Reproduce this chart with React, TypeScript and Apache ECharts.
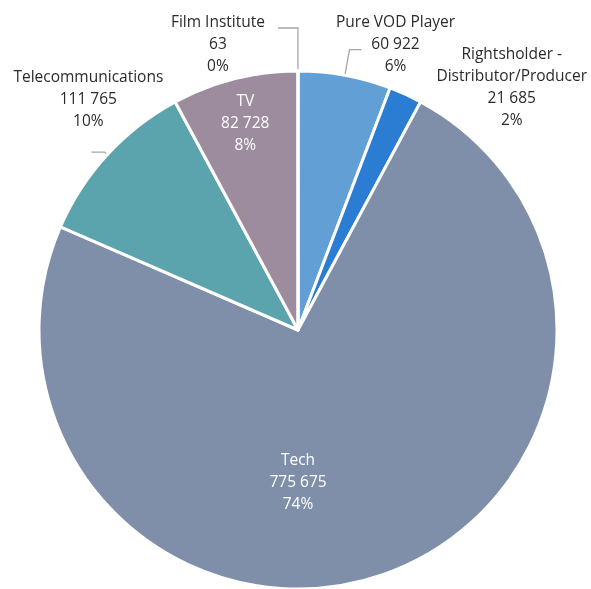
import React, { useEffect, useRef } from "react";
import * as echarts from "echarts";

const categories = [
  "Pure VOD Player",
  "Rightsholder - Distributor/Producer",
  "Tech",
  "Telecommunications",
  "TV",
  "Film Institute",
];
const labelNames = [
  "Pure VOD Player",
  "Rightsholder -\nDistributor/Producer",
  "Tech",
  "Telecommunications",
  "TV",
  "Film Institute",
];
const values = [60922, 21685, 775675, 111765, 82728, 63];
const colors = ["#629FD5", "#2B7CD3", "#7F8FA9", "#5BA3AD", "#9D8C9E", "#8FA9C9"];

const CX = 298;
const CY = 330;
const R = 259;

const fmt = (v: number) => String(v).replace(/\B(?=(\d{3})+(?!\d))/g, " ");

const polar = (deg: number, frac: number) => {
  const a = (deg * Math.PI) / 180;
  return { x: CX + R * frac * Math.sin(a), y: CY - R * frac * Math.cos(a) };
};

export default function App() {
  const ref = useRef<HTMLDivElement>(null);
  useEffect(() => {
    if (!ref.current) return;
    const chart = echarts.init(ref.current, null, { renderer: "svg" });
    const outside = {
      show: true,
      position: "outside",
      color: "#2b2b2b",
      fontFamily: "Open Sans",
      fontSize: 15.5,
      lineHeight: 22,
    };
    const inside = {
      show: true,
      position: "inside",
      color: "#ffffff",
      fontFamily: "Open Sans",
      fontSize: 15.5,
      lineHeight: 22,
    };
    const lineStyle = { color: "#A6A6A6", width: 1.3 };
    const itemCfg: any[] = [
      { label: outside, labelLine: { show: true, length: 26, length2: 12, lineStyle } },
      { label: outside, labelLine: { show: false } },
      { label: inside, labelLine: { show: false } },
      { label: outside, labelLine: { show: true, length: 4, length2: 13, lineStyle } },
      { label: inside, labelLine: { show: false } },
      { label: outside, labelLine: { show: true, length: 43, length2: 20, lineStyle } },
    ];
    const data = categories.map((c, i) => ({
      name: c,
      value: values[i],
      itemStyle: { color: colors[i] },
      ...itemCfg[i],
    }));
    chart.setOption({
      animation: false,
      series: [
        {
          type: "pie",
          center: [CX, CY],
          radius: [0, R],
          startAngle: 90,
          clockwise: true,
          percentPrecision: 0,
          avoidLabelOverlap: false,
          itemStyle: { borderColor: "#ffffff", borderWidth: 3 },
          label: {
            formatter: (p: any) =>
              `${labelNames[p.dataIndex]}\n${fmt(p.value)}\n${p.percent}%`,
          },
          labelLayout: (p: any) => {
            const i = p.dataIndex;
            const pts = p.labelLinePoints;
            const end = pts && pts.length ? pts[pts.length - 1] : null;
            let pos: { x: number; y: number } | null = null;
            if (i === 0 && end) pos = { x: end[0] + 34, y: end[1] - 7 };
            else if (i === 1) pos = polar(41.2, 1.253);
            else if (i === 2) pos = polar(180, 0.583);
            else if (i === 3 && end) pos = { x: end[0] - 3, y: end[1] - 54 };
            else if (i === 4) pos = polar(345.8, 0.83);
            else if (i === 5 && end) pos = { x: end[0] - 60, y: end[1] + 15 };
            if (!pos) return {};
            const res: any = {
              x: pos.x,
              y: pos.y,
              align: "center",
              verticalAlign: "middle",
            };
            if (pts) res.labelLinePoints = pts;
            return res;
          },
          data,
        },
      ],
    });
    return () => chart.dispose();
  }, []);
  return (
    <div
      ref={ref}
      style={{ position: "fixed", left: 0, top: 0, width: 591, height: 589 }}
    />
  );
}
